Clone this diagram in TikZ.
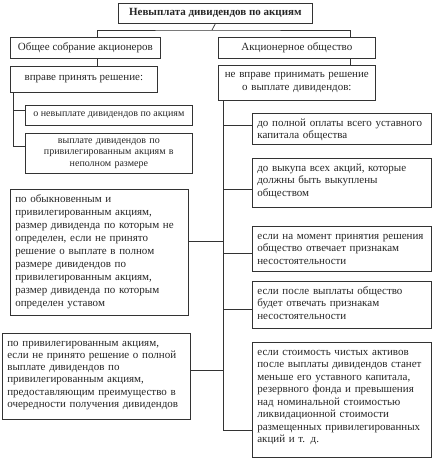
\documentclass[tikz,border=0pt]{standalone}
\usepackage{fontspec}
\setmainfont{Liberation Serif}
\usepackage{tikz}
\tikzset{
  box/.style={draw=black!80, line width=0.7pt, anchor=north west, inner xsep=3pt, inner ysep=2pt,
    text=black!85, font=\fontsize{11}{13}\selectfont},
  textbox/.style={box, inner xsep=5pt, inner ysep=3pt, text height=10pt, text depth=#1, align=left},
  link/.style={draw=black!80, line width=0.7pt}
}

\begin{document}
\begin{tikzpicture}[x=1pt, y=-1pt]
    \useasboundingbox (0,0) rectangle (433,460);
    % headings
    \node[box, minimum width=194, minimum height=20, font=\fontsize{11}{13}\selectfont\bfseries] (title) at (118,3) {Невыплата дивидендов по акциям};
    \node[box, minimum width=150, minimum height=21] (meeting) at (10,37) {Общее собрание акционеров};
    \node[box, minimum width=157, minimum height=21] (jsc) at (218,37) {Акционерное общество};
    \node[box, minimum width=147, minimum height=26] (may) at (10,66) {вправе принять решение:};
    \node[box, minimum width=157, minimum height=35, text width=151, align=center] (maynot) at (218,65) {не вправе принимать решение\\о выплате дивидендов:};
    % left column
    \node[box, minimum width=167, minimum height=20, font=\fontsize{10}{11.5}\selectfont] (nopay) at (25,105) {о невыплате дивидендов по акциям};
    \node[box, minimum width=167, minimum height=40, text width=161, align=center, font=\fontsize{10}{11.5}\selectfont] (partial) at (25,133) {выплате дивидендов по\\привилегированным акциям в\\неполном размере};
    \node[textbox=110pt, minimum width=178, text width=168] (common) at (10,189) {по обыкновенным и\\привилегированным акциям,\\размер дивиденда по которым не\\определен, если не принято\\решение о выплате в полном\\размере дивидендов по\\привилегированным акциям,\\размер дивиденда по которым\\определен уставом};
    \node[textbox=70pt, minimum width=188, text width=178, font=\fontsize{11}{12.2}\selectfont] (pref) at (2,333) {по привилегированным акциям,\\если не принято решение о полной\\выплате дивидендов по\\привилегированным акциям,\\предоставляющим преимущество в\\очередности получения дивидендов};
    % right column
    \node[textbox=15pt, minimum width=179, text width=169, font=\fontsize{11}{12.5}\selectfont] (r1) at (252,113) {до полной оплаты всего уставного\\капитала общества};
    \node[textbox=33pt, minimum width=179, text width=169, font=\fontsize{11}{12.5}\selectfont] (r2) at (252,158) {до выкупа всех акций, которые\\должны быть выкуплены\\обществом};
    \node[textbox=29pt, minimum width=179, text width=169, font=\fontsize{11}{12.5}\selectfont] (r3) at (252,226) {если на момент принятия решения\\общество отвечает признакам\\несостоятельности};
    \node[textbox=31pt, minimum width=179, text width=169, font=\fontsize{11}{12.5}\selectfont] (r4) at (252,281) {если после выплаты общество\\будет отвечать признакам\\несостоятельности};
    \node[textbox=99pt, minimum width=179, text width=169, font=\fontsize{11}{12.5}\selectfont] (r5) at (252,342) {если стоимость чистых активов\\после выплаты дивидендов станет\\меньше его уставного капитала,\\резервного фонда и превышения\\над номинальной стоимостью\\ликвидационной стоимости\\размещенных привилегированных\\акций и т. д.};
    % forks and trunks
    \coordinate (fork) at (212,30);
    \coordinate (lx) at (97,0);
    \coordinate (rx) at (350,0);
    \coordinate (ltrunk) at (13,100);
    \coordinate (rtrunk) at (223,110);
    \draw[link] (title.south) -- (fork);
    \draw[link] (meeting.north -| lx) |- (fork) -| (jsc.north -| rx);
    \draw[link] (meeting.south -| lx) -- (may.north -| lx);
    \draw[link] (jsc.south -| rx) -- (maynot.north -| rx);
    \draw[link] (may.south -| ltrunk) |- ([yshift=7pt]partial.west);
    \draw[link] ([yshift=5pt]nopay.west) -| (ltrunk);
    \draw[link] (maynot.south -| rtrunk) |- ([yshift=-30.5pt]r5.west);
    \draw[link] ([yshift=4pt]r1.west) -| (rtrunk);
    \draw[link] ([yshift=-6.5pt]r2.west) -| (rtrunk);
    \draw[link] ([yshift=-4.5pt]r3.west) -| (rtrunk);
    \draw[link] ([yshift=-4.5pt]r4.west) -| (rtrunk);
    \draw[link] ([yshift=11pt]common.east) -| (rtrunk);
    \draw[link] ([yshift=6pt]pref.east) -| (rtrunk);
\end{tikzpicture}
\end{document}
